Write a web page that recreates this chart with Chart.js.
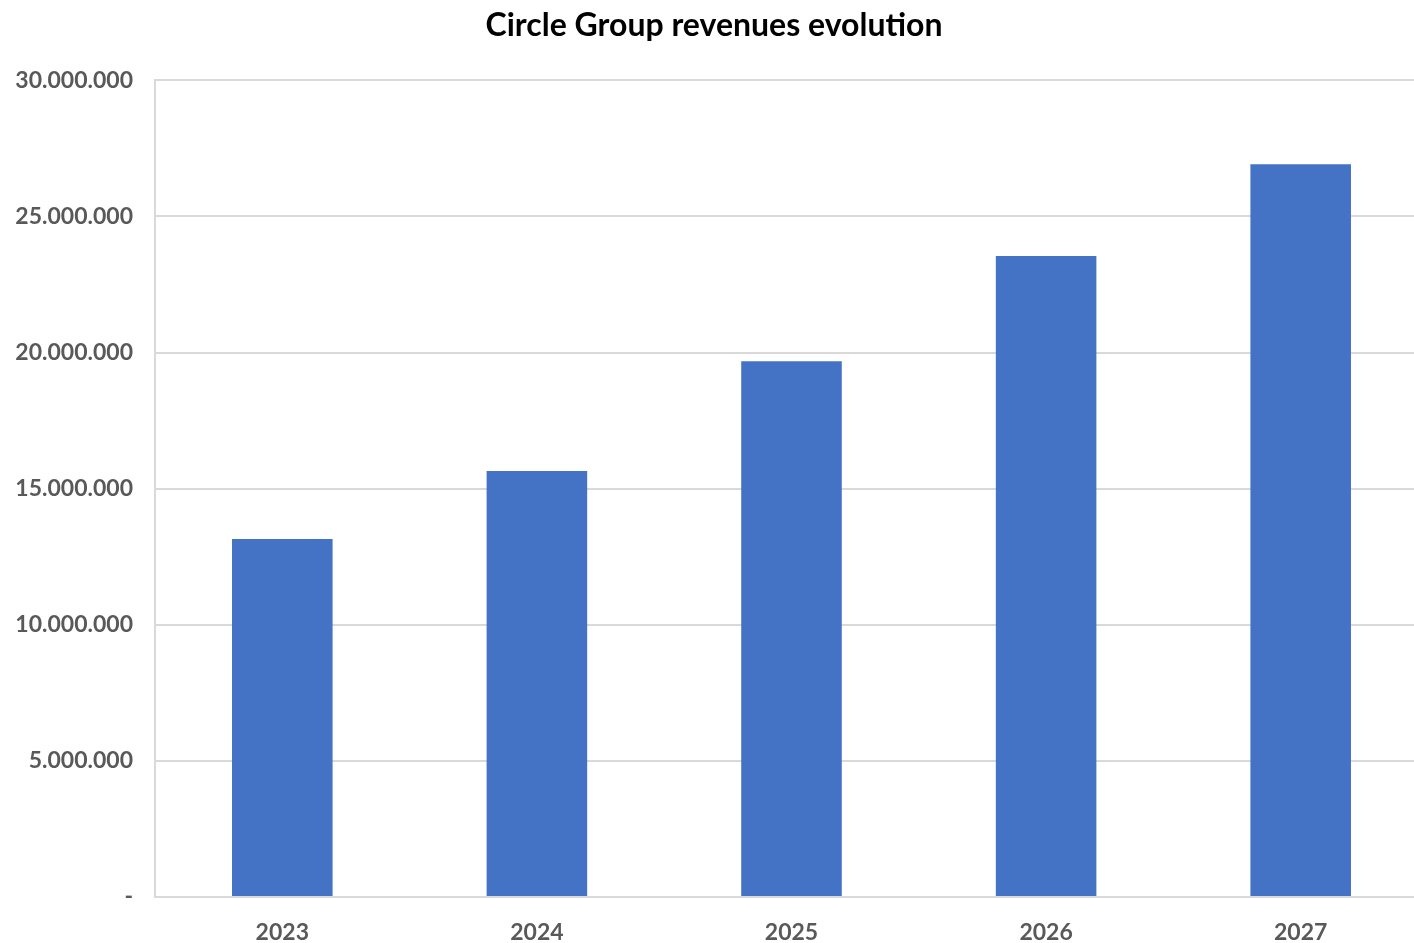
<!DOCTYPE html>
<html>
<head>
<meta charset="utf-8">
<script src="https://cdn.jsdelivr.net/npm/chart.js@4"></script>
<style>
  html, body { margin: 0; padding: 0; background: #fff; overflow: hidden; }
  #wrap { width: 1428px; height: 943px; }
</style>
</head>
<body>
<div id="wrap"><canvas id="revChart"></canvas></div>
<script>
// Revenue bars
var years = ["2023", "2024", "2025", "2026", "2027"];
var revenues = [13150000, 15650000, 19680000, 23550000, 26920000];
var barColor = "#4472c4";

function fmt(v) {
  if (v === 0) return "-";
  return String(v).replace(/\B(?=(\d{3})+(?!\d))/g, ".");
}

var tickFont = { family: "Lato", size: 23, weight: "bold" };

new Chart("revChart", {
  type: "bar",
  data: {
    labels: years,
    datasets: [{
      backgroundColor: barColor,
      data: revenues,
      barPercentage: 0.79,
      categoryPercentage: 0.5
    }]
  },
  options: {
    responsive: true,
    maintainAspectRatio: false,
    animation: false,
    plugins: {
      legend: { display: false },
      tooltip: { enabled: false },
      title: {
        display: true,
        text: "Circle Group revenues evolution",
        color: "#000",
        font: { family: "Lato", size: 32, weight: "bold" },
        padding: { top: 6, bottom: 36 }
      }
    },
    scales: {
      x: {
        afterFit: function (s) { s.height = 46; },
        grid: { display: false },
        border: { color: "#d9d9d9", width: 2 },
        ticks: {
          color: "#595959",
          font: tickFont,
          padding: 14
        }
      },
      y: {
        min: 0,
        max: 30000000,
        afterFit: function (s) { s.width = 155; },
        grid: { color: "#d9d9d9", lineWidth: 2, drawTicks: false },
        border: { color: "#d9d9d9", width: 2 },
        ticks: {
          stepSize: 5000000,
          color: "#595959",
          font: tickFont,
          padding: 22,
          callback: function (v) { return fmt(v); }
        }
      }
    }
  }
});
</script>
</body>
</html>
